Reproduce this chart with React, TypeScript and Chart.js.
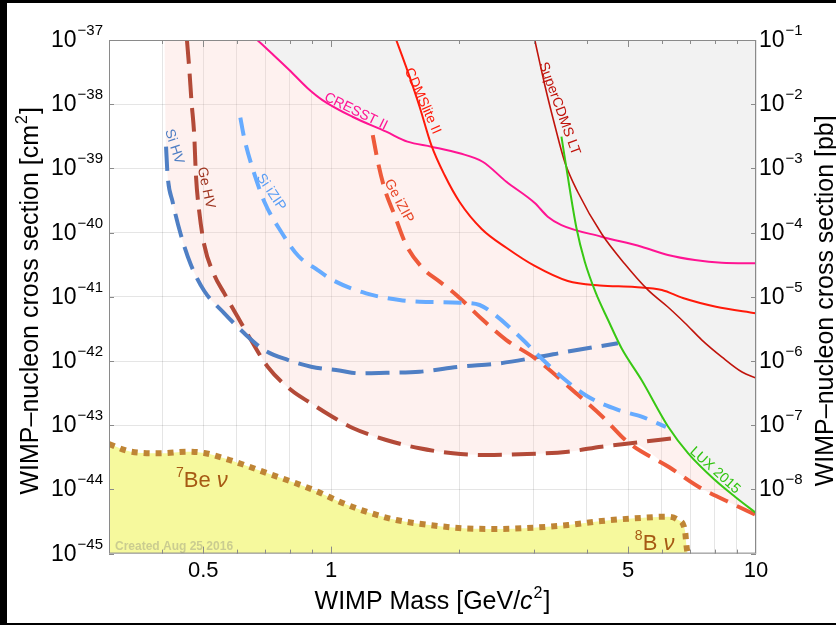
import React, { useEffect, useRef } from 'react';
import { Chart, registerables } from 'chart.js';

Chart.register(...registerables);

const FONT = '"Liberation Sans", Arial, Helvetica, sans-serif';

// ---------- data (mass in GeV/c^2, cross section in cm^2) ----------
const cresstMass = [0.670, 0.723, 0.797, 0.879, 0.954, 1.122, 1.348, 1.512, 1.721, 2.006, 2.273, 2.585, 3.015, 3.235, 3.484, 4.328, 5.378, 6.203, 7.179, 8.305, 10];
const cresstSigma = [1e-37, 6.27e-38, 3.41e-38, 1.79e-38, 1.16e-38, 6.38e-39, 3.73e-39, 2.61e-39, 2.18e-39, 1.72e-39, 1.27e-39, 6.2e-40, 2.89e-40, 1.77e-40, 1.31e-40, 8.63e-41, 6.03e-41, 4.48e-41, 3.74e-41, 3.40e-41, 3.33e-41];

const cdmsliteMass = [1.423, 1.515, 1.615, 1.721, 1.849, 2.006, 2.261, 2.590, 3.015, 3.606, 4.289, 5.186, 6.004, 6.730, 8.050, 10];
const cdmsliteSigma = [1e-37, 3.21e-38, 9.14e-39, 2.31e-39, 7.88e-40, 3.00e-40, 1.14e-40, 5.75e-41, 3.02e-41, 1.76e-41, 1.50e-41, 1.42e-41, 1.28e-41, 9.58e-42, 7.01e-42, 5.53e-42];

const superLTMass = [3.015, 3.183, 3.359, 3.547, 3.806, 4.335, 4.913, 5.566, 6.203, 6.802, 7.460, 8.318, 9.27, 10];
const superLTSigma = [1e-37, 1.99e-38, 4.74e-39, 1.26e-39, 4.29e-40, 9.51e-41, 3.24e-41, 1.28e-41, 6.93e-42, 3.91e-42, 2.12e-42, 1.15e-42, 6.74e-43, 5.43e-43];

const luxMass = [3.484, 3.580, 3.780, 3.954, 4.197, 4.486, 4.826, 5.378, 6.213, 6.925, 8.007, 8.924, 10];
const luxSigma = [3.12e-39, 1.00e-39, 1.17e-40, 3.52e-41, 1.15e-41, 4.35e-42, 1.58e-42, 5.06e-43, 9.48e-44, 3.65e-44, 1.40e-44, 7.69e-45, 4.29e-45];

const siHVMass = [0.4087, 0.4121, 0.4234, 0.4430, 0.4678, 0.5028, 0.5605, 0.6246, 0.6963, 0.7903, 0.8971, 1.046, 1.166, 1.348, 1.615, 2.006, 2.493, 3.063, 3.606, 4.730];
const siHVSigma = [2.18e-39, 7.88e-40, 3.03e-40, 9.18e-41, 3.13e-41, 1.23e-41, 5.53e-42, 2.70e-42, 1.48e-42, 1.04e-42, 8.15e-43, 7.11e-43, 6.43e-43, 6.57e-43, 6.81e-43, 8.15e-43, 9.20e-43, 1.15e-42, 1.40e-42, 1.89e-42];

const geHVMass = [0.4577, 0.4634, 0.4692, 0.4761, 0.4805, 0.4893, 0.5028, 0.5308, 0.5605, 0.6023, 0.6476, 0.7089, 0.8050, 0.8971, 0.991, 1.124, 1.348, 1.615, 1.934, 2.319, 2.779, 3.611, 4.328, 5.186, 6.384];
const geHVSigma = [1e-37, 3.62e-38, 1.09e-38, 3.31e-39, 7.88e-40, 2.11e-40, 6.41e-41, 2.19e-41, 1.13e-41, 4.89e-42, 2.12e-42, 8.15e-43, 3.53e-43, 2.19e-43, 1.44e-43, 9.04e-44, 5.88e-44, 4.37e-44, 3.65e-44, 3.43e-44, 3.52e-44, 3.87e-44, 4.63e-44, 5.33e-44, 6.25e-44];

const siIZIPMass = [0.6113, 0.6246, 0.6533, 0.6963, 0.7626, 0.8375, 0.9298, 1.007, 1.209, 1.449, 1.615, 2.006, 2.236, 2.403, 2.779, 3.126, 3.484, 4.025, 4.737, 5.378, 6.136];
const siIZIPSigma = [6.17e-39, 2.94e-39, 1.00e-39, 3.03e-40, 1.03e-40, 4.32e-41, 2.61e-41, 1.83e-41, 1.13e-41, 8.91e-42, 8.39e-42, 8.09e-42, 7.45e-42, 5.53e-42, 2.39e-42, 1.10e-42, 5.69e-43, 2.78e-43, 1.73e-43, 1.36e-43, 9.38e-44];

const geIZIPMass = [1.253, 1.288, 1.335, 1.410, 1.502, 1.644, 1.800, 1.971, 2.277, 2.585, 3.015, 3.766, 4.359, 5.020, 6.237, 7.338, 8.924, 10];
const geIZIPSigma = [3.31e-39, 1.27e-39, 4.90e-40, 1.88e-40, 6.41e-41, 2.78e-41, 1.72e-41, 1.07e-41, 4.35e-42, 2.12e-42, 1.11e-42, 3.18e-43, 1.34e-43, 5.28e-44, 2.23e-44, 1.09e-44, 5.71e-45, 3.99e-45];

const neutrinoMass = [0.3, 0.3378, 0.3974, 0.4592, 0.5028, 0.5605, 0.6246, 0.7089, 0.820, 0.9298, 1.046, 1.209, 1.423, 1.705, 2.043, 2.447, 2.987, 3.611, 4.328, 5.186, 6.213, 6.560, 6.802, 6.865, 6.902];
const neutrinoSigma = [5.09e-44, 3.87e-44, 3.65e-44, 3.87e-44, 3.69e-44, 3.05e-44, 2.40e-44, 1.78e-44, 1.27e-44, 9.20e-45, 6.43e-45, 4.50e-45, 3.34e-45, 2.79e-45, 2.48e-45, 2.42e-45, 2.53e-45, 2.79e-45, 3.22e-45, 3.55e-45, 3.76e-45, 3.34e-45, 2.33e-45, 1.28e-45, 1e-45];

// edge of the shaded projected-sensitivity region
const projectedEdgeMass = [0.405, 0.4087, 0.4121, 0.4234, 0.4430, 0.4678, 0.5028, 0.5605, 0.6147, 0.6476, 0.7089, 0.8050, 0.8971, 0.991, 1.124, 1.348, 1.615, 1.934, 2.319, 2.779, 3.611, 4.328, 5.047, 6.237, 7.338, 8.924, 10];
const projectedEdgeSigma = [1e-37, 2.18e-39, 7.88e-40, 3.03e-40, 9.18e-41, 3.13e-41, 1.23e-41, 5.53e-42, 3.04e-42, 2.12e-42, 8.15e-43, 3.53e-43, 2.19e-43, 1.44e-43, 9.04e-44, 5.88e-44, 4.37e-44, 3.65e-44, 3.43e-44, 3.52e-44, 3.87e-44, 4.63e-44, 5.28e-44, 2.23e-44, 1.09e-44, 5.71e-45, 3.99e-45];

// edge of the shaded excluded region
const excludedEdgeMass = [0.670, 0.723, 0.797, 0.879, 0.954, 1.122, 1.348, 1.512, 1.719, 1.849, 2.006, 2.261, 2.590, 3.015, 3.606, 4.128, 4.197, 4.486, 4.826, 5.378, 6.213, 6.925, 8.007, 8.924, 10];
const excludedEdgeSigma = [1e-37, 6.27e-38, 3.41e-38, 1.79e-38, 1.16e-38, 6.38e-39, 3.73e-39, 2.61e-39, 2.23e-39, 7.88e-40, 3.00e-40, 1.14e-40, 5.75e-41, 3.02e-41, 1.76e-41, 1.53e-41, 1.15e-41, 4.35e-42, 1.58e-42, 5.06e-43, 9.48e-44, 3.65e-44, 1.40e-44, 7.69e-45, 4.29e-45];

// axes
const xGridValues = [0.3, 0.4, 0.5, 0.6, 0.7, 0.8, 0.9, 1, 2, 3, 4, 5, 6, 7, 8, 9, 10];
const xTickLabels = [0.5, 1, 5, 10];
const cmExponents = [-37, -38, -39, -40, -41, -42, -43, -44, -45];
const pbExponents = [-1, -2, -3, -4, -5, -6, -7, -8];

const curveLabels = [
  { text: 'CRESST II', mass: 1.144, sigma: 7.7e-39, angle: 26, color: '#ff1493' },
  { text: 'CDMSlite II', mass: 1.641, sigma: 1.12e-38, angle: 66, color: '#ff1a0a' },
  { text: 'SuperCDMS LT', mass: 3.443, sigma: 8.57e-39, angle: 70, color: '#c0140c' },
  { text: 'LUX 2015', mass: 8.007, sigma: 1.97e-44, angle: 42, color: '#2fc40f' },
  { text: 'Si HV', mass: 0.427, sigma: 2.18e-39, angle: 72, color: '#4f7fc4' },
  { text: 'Ge HV', mass: 0.5075, sigma: 5.0e-40, angle: 78, color: '#9e3420' },
  { text: 'Si iZIP', mass: 0.722, sigma: 4.25e-40, angle: 56, color: '#5a9ef5' },
  { text: 'Ge iZIP', mass: 1.443, sigma: 3.1e-40, angle: 62, color: '#e8482a' },
];

const pts = (ms: number[], ss: number[]) => ms.map((m, i) => ({ x: m, y: ss[i] }));

type Part = { t: string; f: string; dy?: number; dx?: number };
function drawParts(ctx: CanvasRenderingContext2D, parts: Part[], x: number, y: number, align: 'left' | 'right' | 'center') {
  const widths = parts.map(p => { ctx.font = p.f; return ctx.measureText(p.t).width + (p.dx || 0); });
  const total = widths.reduce((a, b) => a + b, 0);
  let cx = align === 'left' ? x : align === 'right' ? x - total : x - total / 2;
  ctx.textAlign = 'left';
  ctx.textBaseline = 'alphabetic';
  parts.forEach((p, i) => {
    ctx.font = p.f;
    ctx.fillText(p.t, cx + (p.dx || 0), y + (p.dy || 0));
    cx += widths[i];
  });
}

const powParts = (exp: number): Part[] => [
  { t: '10', f: `23px ${FONT}` },
  { t: '\u2212' + Math.abs(exp), f: `15px ${FONT}`, dy: -12, dx: 1 },
];

const decor = {
  id: 'decor',
  afterDatasetsDraw(chart: any) {
    const { ctx, chartArea: a, scales } = chart;
    const xs = scales.x, ys = scales.y;
    ctx.save();
    // frame
    ctx.strokeStyle = '#8a8a8a';
    ctx.lineWidth = 1;
    ctx.strokeRect(a.left + 0.5, a.top + 0.5, a.right - a.left - 1, a.bottom - a.top - 1);
    // x ticks (inward, top and bottom)
    xGridValues.forEach(v => {
      if (v === 0.3 || v === 10) return;
      const len = xTickLabels.includes(v) ? 7 : 4;
      const px = Math.round(xs.getPixelForValue(v)) + 0.5;
      ctx.beginPath();
      ctx.moveTo(px, a.bottom); ctx.lineTo(px, a.bottom - len);
      ctx.moveTo(px, a.top); ctx.lineTo(px, a.top + len);
      ctx.stroke();
    });
    cmExponents.forEach(e => {
      const py = Math.round(ys.getPixelForValue(Math.pow(10, e))) + 0.5;
      ctx.beginPath();
      ctx.moveTo(a.left, py); ctx.lineTo(a.left + 5, py);
      ctx.moveTo(a.right, py); ctx.lineTo(a.right - 5, py);
      ctx.stroke();
    });
    // curve labels
    curveLabels.forEach(l => {
      const px = xs.getPixelForValue(l.mass);
      const py = ys.getPixelForValue(l.sigma);
      ctx.save();
      ctx.translate(px, py);
      ctx.rotate((l.angle * Math.PI) / 180);
      ctx.fillStyle = l.color;
      ctx.font = `14px ${FONT}`;
      ctx.textAlign = 'center';
      ctx.textBaseline = 'middle';
      ctx.fillText(l.text, 0, 0);
      ctx.restore();
    });
    // neutrino labels
    ctx.fillStyle = '#a65a14';
    drawParts(ctx, [
      { t: '7', f: `14px ${FONT}`, dy: -10 },
      { t: 'Be ', f: `22px ${FONT}` },
      { t: '\u03bd', f: `italic 22px ${FONT}` },
    ], xs.getPixelForValue(0.4312), ys.getPixelForValue(1.09e-44), 'left');
    drawParts(ctx, [
      { t: '8', f: `14px ${FONT}`, dy: -10 },
      { t: 'B ', f: `22px ${FONT}` },
      { t: '\u03bd', f: `italic 22px ${FONT}` },
    ], xs.getPixelForValue(5.186), ys.getPixelForValue(1.14e-45), 'left');
    // watermark
    ctx.fillStyle = 'rgba(120,120,120,0.35)';
    ctx.font = `bold 12px ${FONT}`;
    ctx.textAlign = 'left';
    ctx.textBaseline = 'alphabetic';
    ctx.fillText('Created Aug 25 2016', a.left + 6, a.bottom - 4);
    ctx.restore();
  },
  afterDraw(chart: any) {
    const { ctx, chartArea: a, scales } = chart;
    const xs = scales.x, ys = scales.y, y2 = scales.y2;
    ctx.save();
    ctx.fillStyle = '#000';
    // x tick labels
    xTickLabels.forEach(v => {
      ctx.font = `22px ${FONT}`;
      ctx.textAlign = 'center';
      ctx.textBaseline = 'alphabetic';
      ctx.fillText(String(v), xs.getPixelForValue(v), a.bottom + 23);
    });
    // left y labels
    cmExponents.forEach(e => {
      const py = ys.getPixelForValue(Math.pow(10, e));
      drawParts(ctx, powParts(e), a.left - 6, py + 7, 'right');
    });
    // right y labels
    pbExponents.forEach(e => {
      const py = y2.getPixelForValue(Math.pow(10, e));
      drawParts(ctx, powParts(e), a.right + 3, py + 7, 'left');
    });
    // x title
    drawParts(ctx, [
      { t: 'WIMP Mass [GeV/', f: `25px ${FONT}` },
      { t: 'c', f: `italic 25px ${FONT}` },
      { t: '2', f: `16px ${FONT}`, dy: -11, dx: 1 },
      { t: ']', f: `25px ${FONT}`, dx: 1 },
    ], (a.left + a.right) / 2, a.bottom + 55, 'center');
    // left title
    const cy = (a.top + a.bottom) / 2 + 4;
    ctx.save();
    ctx.translate(31, cy);
    ctx.rotate(-Math.PI / 2);
    drawParts(ctx, [
      { t: 'WIMP\u2013nucleon cross section [cm', f: `25px ${FONT}` },
      { t: '2', f: `16px ${FONT}`, dy: -11, dx: 1 },
      { t: ']', f: `25px ${FONT}`, dx: 1 },
    ], 0, 0, 'center');
    ctx.restore();
    // right title
    ctx.save();
    ctx.translate(826, cy);
    ctx.rotate(-Math.PI / 2);
    drawParts(ctx, [{ t: 'WIMP\u2013nucleon cross section [pb]', f: `25px ${FONT}` }], 0, 0, 'center');
    ctx.restore();
    ctx.restore();
  },
};

export default function App() {
  const ref = useRef<HTMLCanvasElement | null>(null);
  useEffect(() => {
    if (!ref.current) return;
    const base = { showLine: true, pointRadius: 0, pointHoverRadius: 0, cubicInterpolationMode: 'monotone' as const };
    const solid = (label: string, ms: number[], ss: number[], color: string, w: number, order: number) => ({
      ...base, label, data: pts(ms, ss), borderColor: color, borderWidth: w, fill: false, order,
    });
    const dashed = (label: string, ms: number[], ss: number[], color: string, dash: number[], order: number) => ({
      ...base, label, data: pts(ms, ss), borderColor: color, borderWidth: 4, borderDash: dash, borderCapStyle: 'butt', fill: false, order,
    });
    const chart = new Chart(ref.current, {
      type: 'scatter',
      data: {
        datasets: [
          { ...base, label: 'projected region', data: pts(projectedEdgeMass, projectedEdgeSigma), borderColor: 'rgba(0,0,0,0)', borderWidth: 0, backgroundColor: 'rgba(250,200,190,0.25)', fill: 'end', order: 100 },
          { ...base, label: 'excluded region', data: pts(excludedEdgeMass, excludedEdgeSigma), borderColor: 'rgba(0,0,0,0)', borderWidth: 0, backgroundColor: '#f2f2f2', fill: 'end', order: 90 },
          { ...base, label: 'neutrino floor', data: pts(neutrinoMass, neutrinoSigma), borderColor: '#bf8535', borderWidth: 6, borderDash: [6, 6], borderCapStyle: 'butt', backgroundColor: '#f6f99d', fill: 'start', order: 80 },
          dashed('Ge HV', geHVMass, geHVSigma, '#b34a38', [24, 10], 20),
          dashed('Si HV', siHVMass, siHVSigma, '#4f7fc4', [24, 10], 19),
          dashed('Ge iZIP', geIZIPMass, geIZIPSigma, '#ee5a3a', [20, 10], 18),
          dashed('Si iZIP', siIZIPMass, siIZIPSigma, '#66abff', [18, 10], 17),
          solid('CRESST II', cresstMass, cresstSigma, '#ff1493', 2, 5),
          solid('CDMSlite II', cdmsliteMass, cdmsliteSigma, '#ff1a0a', 2, 4),
          solid('SuperCDMS LT', superLTMass, superLTSigma, '#c0140c', 1.6, 3),
          solid('LUX 2015', luxMass, luxSigma, '#38c814', 2, 2),
        ] as any,
      },
      options: {
        animation: false,
        responsive: false,
        maintainAspectRatio: false,
        layout: { padding: { top: 37, left: 0, right: 0, bottom: 0 } },
        plugins: { legend: { display: false }, tooltip: { enabled: false } },
        events: [],
        scales: {
          x: {
            type: 'logarithmic', min: 0.3, max: 10, position: 'bottom',
            grid: { color: 'rgba(0,0,0,0.1)', drawTicks: false },
            border: { display: false },
            ticks: { display: false },
            afterBuildTicks: (s: any) => { s.ticks = xGridValues.map(v => ({ value: v })); },
            afterFit: (s: any) => { s.height = 69.4; },
          },
          y: {
            type: 'logarithmic', min: 1e-45, max: 1e-37, position: 'left',
            grid: { color: 'rgba(0,0,0,0.1)', drawTicks: false },
            border: { display: false },
            ticks: { display: false },
            afterBuildTicks: (s: any) => { s.ticks = cmExponents.map(e => ({ value: Math.pow(10, e) })); },
            afterFit: (s: any) => { s.width = 102; },
          },
          y2: {
            type: 'logarithmic', min: 1e-9, max: 1e-1, position: 'right',
            grid: { display: false, drawTicks: false },
            border: { display: false },
            ticks: { display: false },
            afterFit: (s: any) => { s.width = 80; },
          },
        } as any,
      },
      plugins: [decor],
    });
    return () => chart.destroy();
  }, []);
  return (
    <div style={{ position: 'fixed', left: 0, top: 0, width: 836, height: 625, background: '#000', overflow: 'hidden' }}>
      <canvas ref={ref} width={829} height={620} style={{ position: 'absolute', left: 7, top: 3, width: 829, height: 620, background: '#fff' }} />
    </div>
  );
}
